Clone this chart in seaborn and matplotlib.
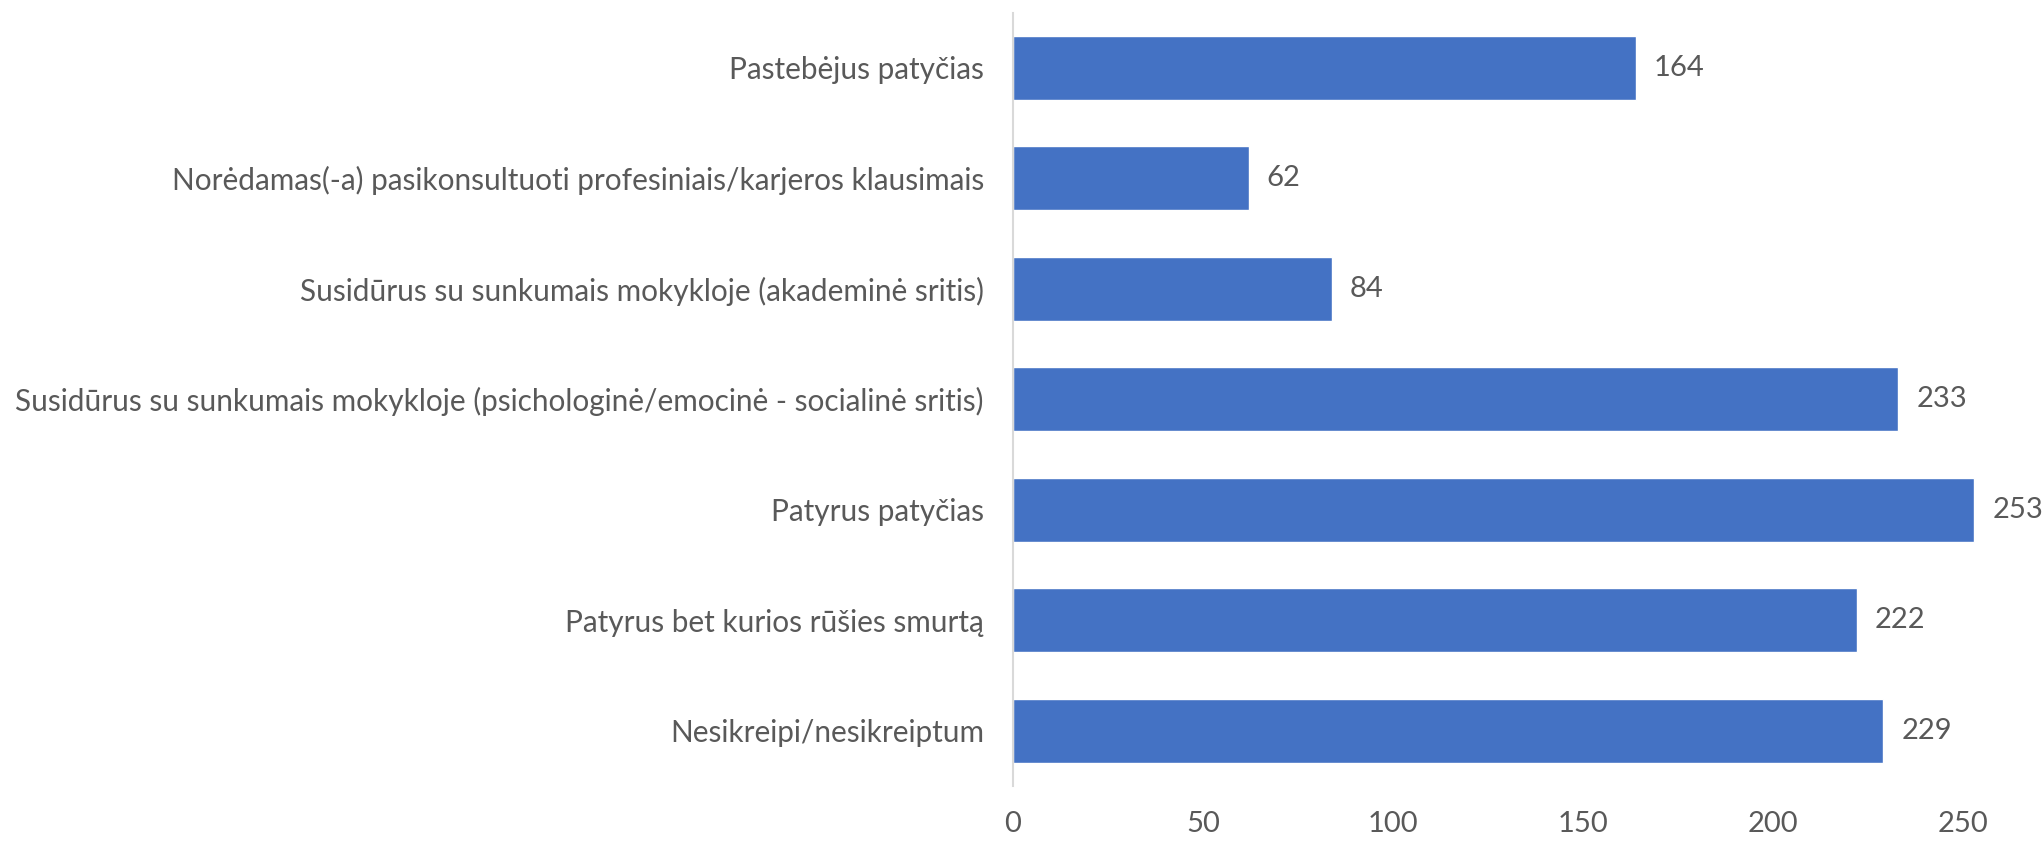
import matplotlib
matplotlib.use("Agg")
import matplotlib.pyplot as plt
import seaborn as sns
import pandas as pd

categories = [
    "Pastebėjus patyčias",
    "Norėdamas(-a) pasikonsultuoti profesiniais/karjeros klausimais",
    "Susidūrus su sunkumais mokykloje (akademinė sritis)",
    "Susidūrus su sunkumais mokykloje (psichologinė/emocinė - socialinė sritis)",
    "Patyrus patyčias",
    "Patyrus bet kurios rūšies smurtą",
    "Nesikreipi/nesikreiptum",
]
values = [164, 62, 84, 233, 253, 222, 229]
x_ticks = [0, 50, 100, 150, 200, 250]

BAR = "#4472C4"
TEXT = "#595959"

sns.set_style("white")
plt.rcParams["font.family"] = ["Lato", "DejaVu Sans"]

df = pd.DataFrame({"cat": categories, "val": values})

fig = plt.figure(figsize=(20.44, 8.42), dpi=100)
ax = fig.add_axes([0.4956, 0.0665, 0.4834, 0.9185])

sns.barplot(data=df, x="val", y="cat", color=BAR, width=0.58, saturation=1, ax=ax)

for i, v in enumerate(values):
    ax.text(v + 4.7, i, str(v), va="center", ha="left", fontsize=21, color=TEXT)

ax.set_xlim(0, 260)
ax.set_ylim(6.5, -0.5)
ax.set_xticks(x_ticks)
ax.set_xlabel("")
ax.set_ylabel("")
ax.tick_params(axis="x", length=0, pad=18, labelsize=21, labelcolor=TEXT)
ax.tick_params(axis="y", length=0, pad=21, labelsize=21.4, labelcolor=TEXT)

for s in ["top", "right", "bottom"]:
    ax.spines[s].set_visible(False)
ax.spines["left"].set_color("#D9D9D9")
ax.spines["left"].set_linewidth(1.5)

fig.savefig("out.png", dpi=100)
